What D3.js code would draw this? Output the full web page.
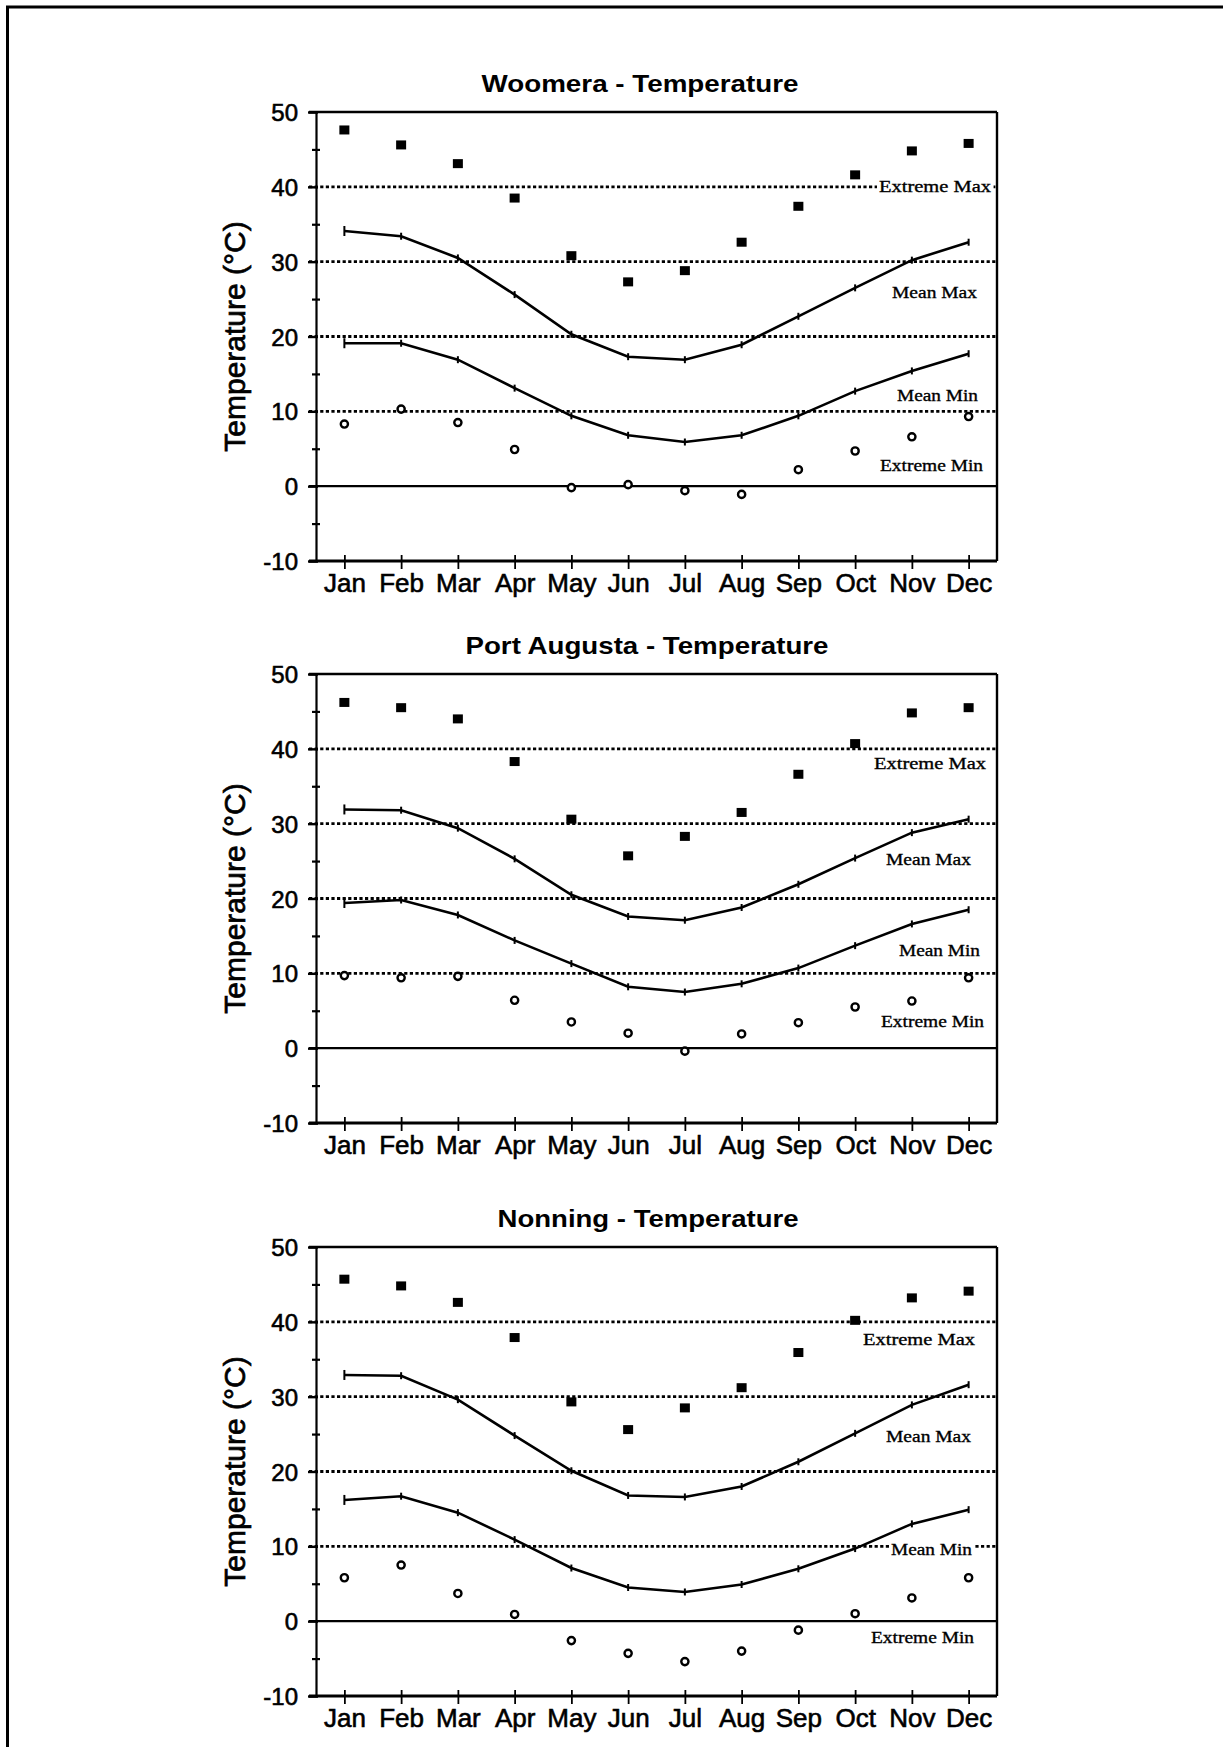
<!DOCTYPE html>
<html><head><meta charset="utf-8">
<script src="https://cdn.jsdelivr.net/npm/d3@7"></script>
<style>body{margin:0;background:#fff}</style>
</head><body>
<svg id="c" width="1223" height="1747"></svg>
<script>
// ---------- data ----------
const months = ["Jan","Feb","Mar","Apr","May","Jun","Jul","Aug","Sep","Oct","Nov","Dec"];
const yTickValues = [-10,0,10,20,30,40,50];
const yMinorValues = [-5,5,15,25,35,45];
const gridValues = [10,20,30,40];
const seriesNames = ["Extreme Max","Mean Max","Mean Min","Extreme Min"];
const chartTitles = ["Woomera - Temperature","Port Augusta - Temperature","Nonning - Temperature"];
const yAxisTitle = "Temperature (°C)";

// Woomera
const woomeraExtremeMax = [47.6,45.6,43.1,38.5,30.8,27.3,28.8,32.6,37.4,41.6,44.8,45.8];
const woomeraMeanMax    = [34.1,33.4,30.5,25.6,20.3,17.3,16.9,18.9,22.7,26.5,30.2,32.6];
const woomeraMeanMin    = [19.1,19.1,16.9,13.1,9.4,6.8,5.9,6.8,9.4,12.7,15.4,17.7];
const woomeraExtremeMin = [8.3,10.3,8.5,4.9,-0.2,0.2,-0.6,-1.1,2.2,4.7,6.6,9.3];

// Port Augusta
const portAugustaExtremeMax = [46.2,45.5,44.0,38.3,30.6,25.7,28.3,31.5,36.6,40.7,44.8,45.5];
const portAugustaMeanMax    = [31.9,31.8,29.4,25.3,20.5,17.6,17.1,18.8,21.9,25.4,28.8,30.6];
const portAugustaMeanMin    = [19.4,19.8,17.8,14.4,11.3,8.2,7.5,8.6,10.7,13.7,16.6,18.5];
const portAugustaExtremeMin = [9.7,9.4,9.6,6.4,3.5,2.0,-0.4,1.9,3.4,5.5,6.3,9.4];

// Nonning
const nonningExtremeMax = [45.7,44.8,42.6,37.9,29.3,25.6,28.5,31.2,35.9,40.2,43.2,44.1];
const nonningMeanMax    = [32.9,32.8,29.6,24.8,20.1,16.8,16.6,18.0,21.3,25.1,28.9,31.6];
const nonningMeanMin    = [16.2,16.7,14.5,10.9,7.1,4.5,3.9,4.9,7.0,9.7,13.0,14.9];
const nonningExtremeMin = [5.8,7.5,3.7,0.9,-2.6,-4.3,-5.4,-4.0,-1.2,1.0,3.1,5.8];

// ---------- layout ----------
const svg = d3.select("#c");
const W = 1223, H = 1747;
const plotLeft = 316, plotRight = 997, plotH = 449;
const plotTops = [112, 674, 1247];
const titleX = [640, 647, 648];
const titleW = [317, 363, 301];
// label anchors (value units for y, pixels for x start, text widths)
const labelY = [[39.3,25.2,11.4,2.0],[37.3,24.5,12.3,2.8],[36.9,24.0,8.8,-2.9]];
const labelX = [[879,892,897,880],[874,886,899,881],[863,886,891,871]];
const labelW = [112,85,81,103];

const data = [
  [woomeraExtremeMax, woomeraMeanMax, woomeraMeanMin, woomeraExtremeMin],
  [portAugustaExtremeMax, portAugustaMeanMax, portAugustaMeanMin, portAugustaExtremeMin],
  [nonningExtremeMax, nonningMeanMax, nonningMeanMin, nonningExtremeMin]
];

// page frame
svg.append("line").attr("x1",6).attr("x2",W).attr("y1",7).attr("y2",7).attr("stroke","#000").attr("stroke-width",3);
svg.append("line").attr("x1",7.5).attr("x2",7.5).attr("y1",6).attr("y2",H).attr("stroke","#000").attr("stroke-width",3);

const SANS = "'Liberation Sans', Arial, sans-serif";
const SERIF = "'Liberation Serif', 'Times New Roman', serif";

data.forEach((series, ci) => {
  const top = plotTops[ci];
  const x = d3.scalePoint().domain(months).range([plotLeft, plotRight]).padding(0.5);
  const y = d3.scaleLinear().domain([-10, 50]).range([top + plotH, top]);
  const g = svg.append("g");

  // title
  g.append("text").attr("x", titleX[ci]).attr("y", top - 20)
    .attr("text-anchor","middle").attr("font-family",SANS).attr("font-size",24).attr("font-weight","bold")
    .attr("textLength", titleW[ci]).attr("lengthAdjust","spacingAndGlyphs")
    .text(chartTitles[ci]);

  // y title
  g.append("text").attr("transform",`translate(245,${(y(50)+y(-10))/2}) rotate(-90)`)
    .attr("text-anchor","middle").attr("font-family",SANS).attr("font-size",30)
    .attr("stroke","#000").attr("stroke-width",0.7)
    .text(yAxisTitle);

  // dotted gridlines
  g.selectAll(".grid").data(gridValues).join("line")
    .attr("x1", plotLeft - 7).attr("x2", plotRight).attr("y1", d => y(d)).attr("y2", d => y(d))
    .attr("stroke","#000").attr("stroke-width",2.8).attr("stroke-dasharray","3.2,2.4");

  // zero line
  g.append("line").attr("x1", plotLeft - 7).attr("x2", plotRight).attr("y1", y(0)).attr("y2", y(0))
    .attr("stroke","#000").attr("stroke-width",2.4);

  // top line and right border
  g.append("line").attr("x1", plotLeft - 7).attr("x2", plotRight).attr("y1", y(50)).attr("y2", y(50))
    .attr("stroke","#000").attr("stroke-width",2.4);
  g.append("line").attr("x1", plotRight).attr("x2", plotRight).attr("y1", y(50)).attr("y2", y(-10))
    .attr("stroke","#000").attr("stroke-width",2.4);

  // left axis (major)
  const yAxis = g.append("g").attr("transform",`translate(${plotLeft},0)`)
    .call(d3.axisLeft(y).tickValues(yTickValues).tickSize(7).tickPadding(11).tickFormat(d => String(d)));
  yAxis.select(".domain").attr("stroke-width",2.2);
  yAxis.selectAll(".tick line").attr("stroke-width",2.4).attr("x2",-8).attr("x1",2);
  yAxis.selectAll(".tick text").attr("font-family",SANS).attr("font-size",24).attr("fill","#000")
    .attr("stroke","#000").attr("stroke-width",0.6).attr("dy","0.36em");
  // minor ticks
  const yMinor = g.append("g").attr("transform",`translate(${plotLeft},0)`)
    .call(d3.axisLeft(y).tickValues(yMinorValues).tickSize(4).tickFormat(""));
  yMinor.select(".domain").remove();
  yMinor.selectAll(".tick line").attr("x1",4).attr("stroke-width",2.2);

  // bottom axis
  const xAxis = g.append("g").attr("transform",`translate(0,${y(-10)})`)
    .call(d3.axisBottom(x).tickSize(8).tickPadding(0));
  xAxis.select(".domain").remove();
  xAxis.selectAll(".tick line").attr("y1",-6).attr("stroke-width",1.8);
  xAxis.selectAll(".tick text").attr("font-family",SANS).attr("font-size",26).attr("fill","#000")
    .attr("stroke","#000").attr("stroke-width",0.6)
    .attr("y",31).attr("dy",0);
  g.append("line").attr("x1", plotLeft - 7).attr("x2", plotRight).attr("y1", y(-10)).attr("y2", y(-10))
    .attr("stroke","#000").attr("stroke-width",3.2);

  // mean lines
  const line = d3.line().x((d,i) => x(months[i])).y(d => y(d));
  [series[1], series[2]].forEach(vals => {
    g.append("path").datum(vals).attr("d", line)
      .attr("fill","none").attr("stroke","#000").attr("stroke-width",2.6);
    g.selectAll(null).data(vals).join("line")
      .attr("x1",(d,i)=>x(months[i])).attr("x2",(d,i)=>x(months[i]))
      .attr("y1",(d,i)=>y(d) - (i===0?5:3.5)).attr("y2",(d,i)=>y(d) + (i===0?5:3.5))
      .attr("stroke","#000").attr("stroke-width",2);
  });

  // extreme max squares
  g.selectAll(null).data(series[0]).join("rect")
    .attr("x",(d,i)=>x(months[i]) - 5).attr("y", d => y(d) - 4.5)
    .attr("width",10).attr("height",9).attr("fill","#000");

  // extreme min circles
  g.selectAll(null).data(series[3]).join("circle")
    .attr("cx",(d,i)=>x(months[i])).attr("cy", d => y(d)).attr("r",3.6)
    .attr("fill","#fff").attr("stroke","#000").attr("stroke-width",2.4);

  // series labels with white backing
  seriesNames.forEach((name, k) => {
    const bg = g.append("rect").attr("fill","#fff");
    const t = g.append("text").attr("x", labelX[ci][k]).attr("y", y(labelY[ci][k]))
      .attr("font-family",SERIF).attr("font-size",17)
      .attr("stroke","#000").attr("stroke-width",0.35)
      .attr("textLength", labelW[k]).attr("lengthAdjust","spacingAndGlyphs")
      .text(name);
    const b = t.node().getBBox();
    bg.attr("x", b.x - 2).attr("y", b.y + 2).attr("width", b.width + 4).attr("height", b.height - 4);
  });
});
</script>
</body></html>
